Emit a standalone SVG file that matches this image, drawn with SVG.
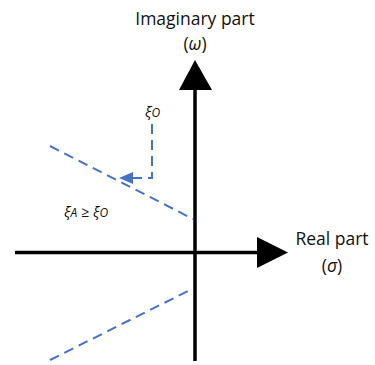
<svg xmlns="http://www.w3.org/2000/svg" width="375" height="365" viewBox="0 0 375 365">
  <style>
    .lbl { font-family: "Open Sans", "Liberation Sans", sans-serif; font-size: 17.5px; fill: #111; }
    .sym { font-family: "Open Sans", "Liberation Sans", sans-serif; font-style: italic; font-size: 14.5px; fill: #111; }
    .axis { stroke: #000; stroke-width: 3.5; fill: none; }
    .dash { stroke: #4472C4; stroke-width: 2; fill: none; stroke-dasharray: 10 6; }
  </style>
  <rect width="375" height="365" fill="#fff"/>
  <g id="connectors">
    <line class="axis" x1="195" y1="88" x2="195" y2="361"/>
    <polygon points="195,60 212,90 179,90" fill="#000"/>
    <line class="axis" x1="15" y1="252.5" x2="260" y2="252.5"/>
    <polygon points="288,252.5 257,237 257,268" fill="#000"/>
    <line class="dash" x1="50" y1="146" x2="193" y2="219"/>
    <line class="dash" x1="50" y1="360" x2="192" y2="289"/>
    <polyline class="dash" points="152,124 152,178 131,178"/>
    <polygon points="119,178 133,172 133,184" fill="#4472C4"/>
  </g>
  <g id="imag-label">
    <text class="lbl" x="195" y="25" text-anchor="middle">Imaginary part</text>
    <text class="lbl" x="195" y="50" text-anchor="middle">(<tspan font-style="italic">ω</tspan>)</text>
  </g>
  <g id="real-label">
    <text class="lbl" x="332" y="245" text-anchor="middle">Real part</text>
    <text class="lbl" x="332" y="272" text-anchor="middle">(<tspan font-style="italic">σ</tspan>)</text>
  </g>
  <g id="xi-o-label">
    <text class="sym" x="145" y="117">ξ<tspan font-size="12">O</tspan></text>
  </g>
  <g id="xi-condition">
    <text class="sym" x="64" y="217">ξ<tspan font-size="12">A</tspan> ≥ ξ<tspan font-size="12">O</tspan></text>
  </g>
</svg>
